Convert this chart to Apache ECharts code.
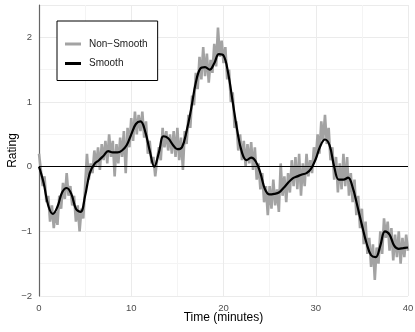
<!DOCTYPE html>
<html>
<head>
<meta charset="utf-8">
<script src="https://cdn.jsdelivr.net/npm/echarts@6/dist/echarts.min.js"></script>
<style>
  html, body { margin: 0; padding: 0; background: #fff; }
  #main { width: 415px; height: 332px; }
</style>
</head>
<body>
<div id="main"></div>
<script>
// raw ratings, one every 0.2 minutes (0 .. 40)
var rawStep = 0.2;
var rawRating = [
  0.2, -0.05, -0.3, -0.15, -0.55,
  -0.45, -0.85, -0.6, -0.95, -0.7,
  -0.9, -0.45, -0.65, -0.25, -0.5,
  -0.1, -0.45, -0.3, -0.6, -0.45,
  -0.85, -0.6, -1.0, -0.65, -0.8,
  -0.3, 0.2, -0.2, 0.05, -0.1,
  0.25, 0.0, 0.3, -0.05, 0.35,
  0.1, 0.4, 0.05, 0.5, 0.15,
  0.4, -0.15, 0.35, 0.05, 0.45,
  0.15, 0.55, -0.1, 0.6, 0.3,
  0.75, 0.4, 0.85, 0.5, 0.8,
  0.55, 0.85, 0.45, 0.7, 0.2,
  0.4, 0.05, 0.15, -0.15, 0.1,
  0.3, 0.1, 0.6, 0.3, 0.55,
  0.25, 0.5, 0.2, 0.55, 0.15,
  0.6, 0.1, 0.45, -0.05, 0.55,
  0.35, 0.8, 0.6, 1.1, 0.95,
  1.45, 1.2, 1.7, 1.35, 1.85,
  1.4, 1.75, 1.3, 1.65, 1.45,
  1.9, 1.55, 2.15, 1.7, 1.95,
  1.6, 1.85, 1.35, 1.5, 1.0,
  1.15, 0.6, 0.7, 0.25, 0.5,
  0.1, 0.4, 0.0, 0.35, 0.05,
  0.38, -0.05, 0.3, -0.2, 0.05,
  -0.35, -0.1, -0.55, -0.3, -0.75,
  -0.3, -0.65, -0.2, -0.6, -0.35,
  -0.7, 0.05, -0.45, -0.15, -0.55,
  -0.1, -0.4, 0.1, -0.3, 0.15,
  -0.35, 0.2, -0.45, 0.05, -0.3,
  0.2, -0.15, 0.1, -0.1, 0.3,
  0.1, 0.5, 0.2, 0.7, 0.4,
  0.8, 0.35, 0.6, 0.1, 0.3,
  -0.2, 0.15, -0.4, 0.05, -0.35,
  0.2, -0.3, 0.15, -0.45, -0.1,
  -0.55, -0.2, -0.75, -0.45, -0.95,
  -0.65, -1.2, -0.85, -1.35, -1.1,
  -1.55, -1.2, -1.75, -1.25, -1.5,
  -1.0, -1.35, -0.8, -1.1, -0.85,
  -1.3, -0.95, -1.45, -1.05, -1.4,
  -1.0, -1.5, -1.1, -1.4, -1.05,
  -1.3
];

// smoothed rating, one every 0.5 minutes (0 .. 40)
var smoothStep = 0.5;
var smoothRating = [
  0, -0.25, -0.6, -0.73, -0.62, -0.4, -0.33, -0.42, -0.65, -0.7,
  -0.45, -0.1, 0.04, 0.1, 0.17, 0.24, 0.22, 0.22, 0.25, 0.33,
  0.5, 0.66, 0.7, 0.55, 0.25, 0.0, 0.22, 0.47, 0.44, 0.34,
  0.27, 0.3, 0.55, 0.9, 1.3, 1.52, 1.54, 1.5, 1.6, 1.74,
  1.72, 1.45, 1.0, 0.55, 0.22, 0.1, 0.14, 0.08, -0.1, -0.35,
  -0.43, -0.42, -0.4, -0.33, -0.25, -0.18, -0.15, -0.12, -0.1, -0.03,
  0.12, 0.32, 0.42, 0.33, 0.0, -0.2, -0.2, -0.17, -0.32, -0.6,
  -0.9, -1.18, -1.37, -1.4, -1.22, -1.0, -1.05, -1.22, -1.27, -1.26,
  -1.25
];

function pairs(vals, step) {
  return vals.map(function (v, i) { return [+(i * step).toFixed(2), v]; });
}

function fmt(v) {
  if (Math.abs(v - Math.round(v)) > 1e-6) return '';
  return v < 0 ? '\u2212' + Math.abs(v) : String(v);
}

var chart = echarts.init(document.getElementById('main'), null, { renderer: 'canvas' });

var option = {
  animation: false,
  backgroundColor: '#fff',
  textStyle: { fontFamily: 'Liberation Sans, Arial, sans-serif' },
  grid: { left: 39, right: 7, top: 5, bottom: 36, containLabel: false, outerBoundsMode: 'none' },
  legend: {
    left: 57,
    top: 21,
    orient: 'vertical',
    backgroundColor: '#fff',
    borderColor: '#000',
    borderWidth: 1,
    borderRadius: 0,
    padding: [18, 10, 12, 8],
    icon: 'rect',
    itemWidth: 16,
    itemHeight: 3,
    itemGap: 9.5,
    textStyle: { fontSize: 10, color: '#1a1a1a', padding: [0, 0, 0, 3] },
    data: ['Non\u2212Smooth', 'Smooth']
  },
  xAxis: {
    type: 'value',
    min: 0,
    max: 40,
    interval: 10,
    name: 'Time (minutes)',
    nameLocation: 'middle',
    nameGap: 16,
    nameMoveOverlap: false,
    nameTextStyle: { fontSize: 12, color: '#000', verticalAlign: 'top' },
    axisLine: { show: false },
    axisTick: { show: false },
    axisLabel: { fontSize: 9.5, color: '#4d4d4d', margin: 7, formatter: fmt },
    splitLine: { show: true, lineStyle: { color: '#ebebeb', width: 1 } },
    minorTick: { show: false, splitNumber: 2 },
    minorSplitLine: { show: true, lineStyle: { color: '#f4f4f4', width: 1 } }
  },
  yAxis: {
    type: 'value',
    min: -2,
    max: 2.5,
    interval: 1,
    name: 'Rating',
    nameLocation: 'middle',
    nameGap: 20,
    nameMoveOverlap: false,
    nameTextStyle: { fontSize: 12, color: '#000' },
    axisLine: { show: true, lineStyle: { color: '#666', width: 1.2 } },
    axisTick: { show: false },
    axisLabel: { fontSize: 9.5, color: '#4d4d4d', margin: 7, formatter: fmt },
    splitLine: { show: true, lineStyle: { color: '#ebebeb', width: 1 } },
    minorTick: { show: false, splitNumber: 2 },
    minorSplitLine: { show: true, lineStyle: { color: '#f4f4f4', width: 1 } }
  },
  series: [
    {
      name: 'Non\u2212Smooth',
      type: 'line',
      data: pairs(rawRating, rawStep),
      showSymbol: false,
      symbol: 'none',
      color: '#a3a3a3',
      lineStyle: { color: '#a3a3a3', width: 2.6 },
      markLine: {
        silent: true,
        symbol: 'none',
        label: { show: false },
        lineStyle: { color: '#000', width: 1.2, type: 'solid' },
        data: [{ yAxis: 0 }]
      }
    },
    {
      name: 'Smooth',
      type: 'line',
      data: pairs(smoothRating, smoothStep),
      smooth: 0.4,
      showSymbol: false,
      symbol: 'none',
      color: '#000',
      lineStyle: { color: '#000', width: 2.2 }
    }
  ]
};

chart.setOption(option);
</script>
</body>
</html>
